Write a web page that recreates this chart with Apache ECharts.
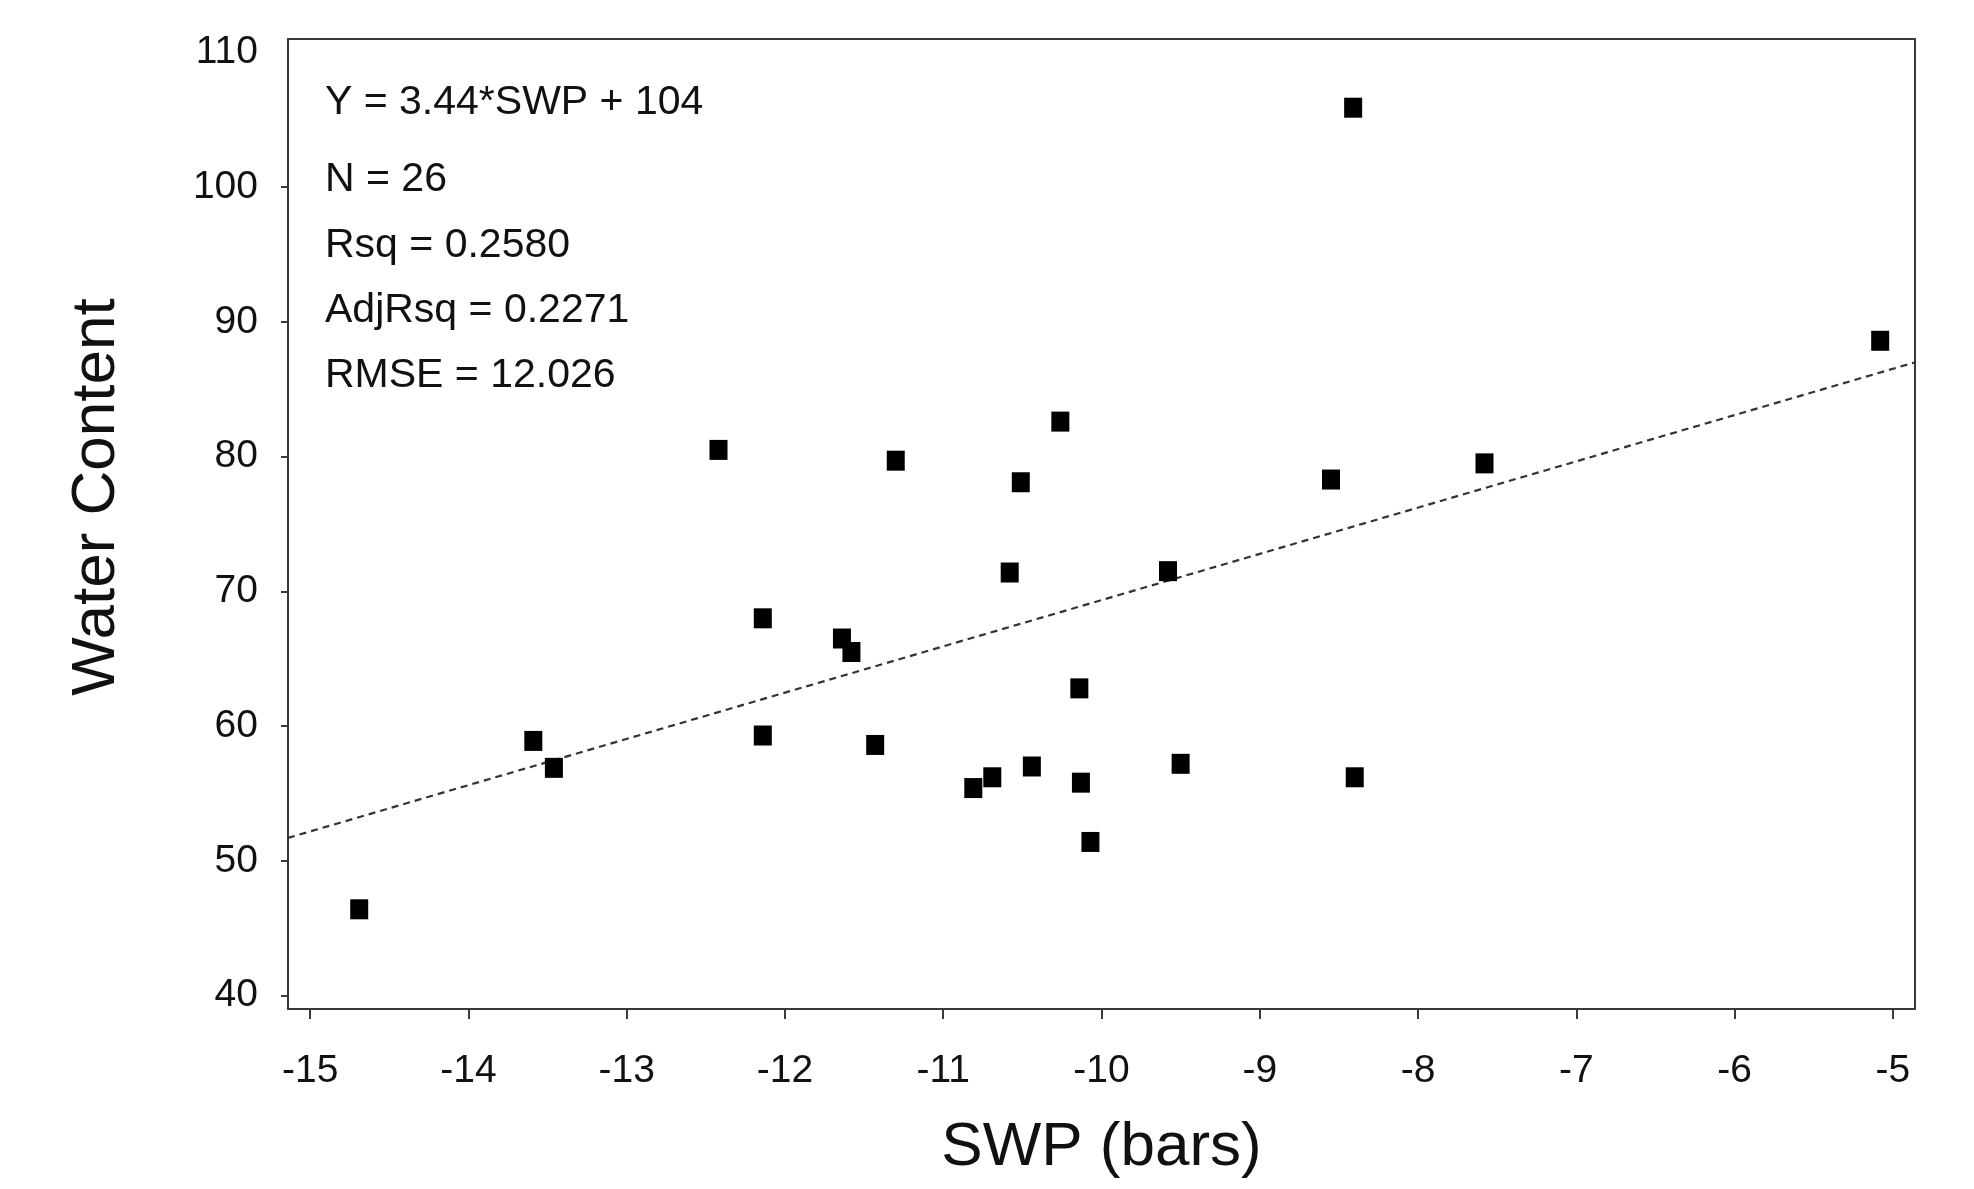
<!DOCTYPE html>
<html>
<head>
<meta charset="utf-8">
<script type="text/javascript" src="https://cdn.jsdelivr.net/npm/echarts@6/dist/echarts.min.js"></script>
<style type="text/css">
    * { margin: 0; padding: 0; }
    body { background: #fff; }
    #container { width: 1974px; height: 1189px; }
</style>
</head>
<body>
<div id="container"></div>
<script type="text/javascript">
// SWP (bars) vs water content
var swp = [-14.69, -13.59, -13.46, -12.42, -12.14, -12.14, -11.64, -11.58, -11.43, -11.30,
           -10.81, -10.69, -10.58, -10.51, -10.44, -10.26, -10.14, -10.13, -10.07, -9.58,
           -9.50, -8.55, -8.41, -8.40, -7.58, -5.08];
var water = [46.4, 58.9, 56.9, 80.5, 68.0, 59.3, 66.5, 65.5, 58.6, 79.7,
             55.4, 56.2, 71.4, 78.1, 57.0, 82.6, 62.8, 55.8, 51.4, 71.5,
             57.2, 78.3, 105.9, 56.2, 79.5, 88.6];

// dashed fit line, end points where it meets the frame
var fitX = [-15.14, -4.86];
var fitY = [51.7, 87.0];

var xTicks = [-15, -14, -13, -12, -11, -10, -9, -8, -7, -6, -5];
var yTicks = [40, 50, 60, 70, 80, 90, 100, 110];

var statLines = ['Y = 3.44*SWP + 104', 'N = 26', 'Rsq = 0.2580', 'AdjRsq = 0.2271', 'RMSE = 12.026'];

var chart = echarts.init(document.getElementById('container'));

var points = [];
for (var i = 0; i < swp.length; i++) {
    points.push([swp[i], water[i]]);
}
var fitLine = [];
for (var j = 0; j < fitX.length; j++) {
    fitLine.push([fitX[j], fitY[j]]);
}

var font = '"Liberation Sans", Arial, sans-serif';
var statTop = [103, 180, 246, 311, 376];
var texts = [];
for (var k = 0; k < statLines.length; k++) {
    texts.push({
        type: 'text',
        x: 325,
        y: statTop[k],
        style: {
            text: statLines[k],
            font: '41px ' + font,
            fill: '#111',
            verticalAlign: 'middle'
        }
    });
}

var option = {
    animation: false,
    backgroundColor: '#fff',
    grid: {
        left: 288,
        right: 59,
        top: 39,
        bottom: 180,
        show: true,
        borderColor: '#3a3a3a',
        borderWidth: 2,
        outerBoundsMode: 'none'
    },
    xAxis: {
        type: 'value',
        min: -15.14,
        max: -4.86,
        name: 'SWP (bars)',
        nameLocation: 'middle',
        nameGap: 108,
        nameTextStyle: { fontFamily: font, fontSize: 62, color: '#111' },
        axisLine: { show: true, onZero: false, lineStyle: { color: '#3a3a3a', width: 2 } },
        axisTick: { show: true, length: 10, customValues: xTicks, lineStyle: { color: '#3a3a3a', width: 2 } },
        axisLabel: { customValues: xTicks, margin: 43, fontFamily: font, fontSize: 39, color: '#111' },
        splitLine: { show: false }
    },
    yAxis: {
        type: 'value',
        min: 39,
        max: 111,
        name: 'Water Content',
        nameLocation: 'middle',
        nameGap: 160,
        nameTextStyle: { fontFamily: font, fontSize: 62, color: '#111', padding: [0, 0, 0, 54] },
        axisLine: { show: true, onZero: false, lineStyle: { color: '#3a3a3a', width: 2 } },
        axisTick: { show: true, length: 7, customValues: [40, 50, 60, 70, 80, 90, 100], lineStyle: { color: '#3a3a3a', width: 2 } },
        axisLabel: { customValues: yTicks, margin: 30, fontFamily: font, fontSize: 39, color: '#111' },
        splitLine: { show: false }
    },
    graphic: texts,
    series: [
        {
            type: 'line',
            data: fitLine,
            symbol: 'none',
            lineStyle: { color: '#333', width: 2.2, type: [7, 5] },
            z: 1
        },
        {
            type: 'scatter',
            data: points,
            symbol: 'rect',
            symbolSize: [18, 20],
            itemStyle: { color: '#000', opacity: 1 },
            z: 2
        }
    ]
};
chart.setOption(option);
</script>
</body>
</html>
